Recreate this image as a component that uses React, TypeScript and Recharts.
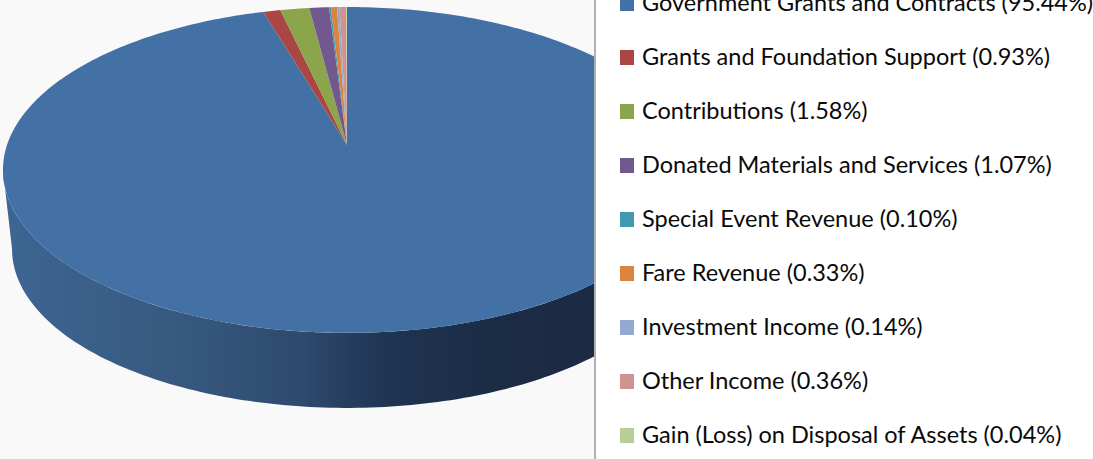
import { PieChart, Pie, Legend } from "recharts";

const categories = [
  "Government Grants and Contracts",
  "Grants and Foundation Support",
  "Contributions",
  "Donated Materials and Services",
  "Special Event Revenue",
  "Fare Revenue",
  "Investment Income",
  "Other Income",
  "Gain (Loss) on Disposal of Assets",
];
const shares = [95.44, 0.93, 1.58, 1.07, 0.1, 0.33, 0.14, 0.36, 0.04];
const colors = ["#4371a6", "#aa4643", "#8aa54c", "#71588f", "#4198af", "#db843d", "#93a9cf", "#d19392", "#b9cd96"];

const chartData = categories.map((name, i) => ({ name, value: shares[i], fill: colors[i] }));

// fake 3D: tilt the circle with a small perspective
const SQUASH = 0.468;
const PERSPECTIVE = 0.153;
const TOP_CY = 145;
const TOP_R = 340;
// angles where the rim turns away from the viewer
const RIM_RIGHT = (-Math.asin(PERSPECTIVE) * 180) / Math.PI;
const RIM_LEFT = -180 - RIM_RIGHT;

const project = (cx: number, cy: number, r: number, deg: number) => {
  const a = (deg * Math.PI) / 180;
  const w = 1 + PERSPECTIVE * Math.sin(a);
  return [cx + (r * Math.cos(a)) / w, cy - (r * SQUASH * Math.sin(a)) / w];
};

const arcPoints = (cx: number, cy: number, r: number, from: number, to: number) => {
  const steps = Math.max(2, Math.ceil(Math.abs(from - to)));
  const pts: number[][] = [];
  for (let i = 0; i <= steps; i++) {
    pts.push(project(cx, cy, r, from + ((to - from) * i) / steps));
  }
  return pts;
};

const toPath = (pts: number[][]) =>
  pts.map((p, i) => `${i === 0 ? "M" : "L"}${p[0].toFixed(2)},${p[1].toFixed(2)}`).join(" ") + " Z";

const TopSlice = (props: any) => {
  const { cx, cy, outerRadius, startAngle, endAngle, fill } = props;
  const pts = [[cx, cy], ...arcPoints(cx, cy, outerRadius, startAngle, endAngle)];
  return <path d={toPath(pts)} fill={fill} />;
};

// the wall between the top face and a slightly smaller, lower copy of it
const WallSlice = (props: any) => {
  const { cx, cy, outerRadius, startAngle, endAngle } = props;
  const from = Math.min(startAngle, RIM_RIGHT);
  const to = Math.max(endAngle, RIM_LEFT);
  if (from <= to) return <g />;
  const top = arcPoints(cx, TOP_CY, TOP_R, from, to);
  const bottom = arcPoints(cx, cy, outerRadius, to, from);
  return <path d={toPath([...top, ...bottom])} fill="url(#wallShade)" />;
};

const LegendList = (props: any) => {
  const items = (props.payload || []).filter((p: any) => p.type !== "none");
  return (
    <div style={{ position: "relative", width: 497, height: 459, overflow: "hidden" }}>
      {items.map((entry: any, i: number) => (
        <div
          key={entry.value}
          style={{ position: "absolute", left: 24, top: -12 + i * 54, height: 30, display: "flex", alignItems: "center" }}
        >
          <span style={{ width: 14, height: 15, background: colors[i], marginRight: 8, flex: "none" }} />
          <span style={{ fontFamily: "Lato", fontSize: 23.5, color: "#0a0a0a", whiteSpace: "nowrap", position: "relative", top: -1 }}>
            {`${entry.value} (${shares[i].toFixed(2)}%)`}
          </span>
        </div>
      ))}
    </div>
  );
};

export default function App() {
  return (
    <div style={{ position: "absolute", left: 0, top: 0, width: 1093, height: 459, background: "#f9f9f9", overflow: "hidden" }}>
      <PieChart width={1093} height={459} margin={{ top: 0, right: 0, bottom: 0, left: 0 }}>
        <defs>
          <linearGradient id="wallShade" gradientUnits="userSpaceOnUse" x1="0" y1="0" x2="600" y2="0">
            <stop offset="0" stopColor="#3d6693" />
            <stop offset="0.3" stopColor="#37597f" />
            <stop offset="0.5" stopColor="#2e4a6d" />
            <stop offset="0.65" stopColor="#1f3452" />
            <stop offset="0.82" stopColor="#1b2c45" />
            <stop offset="1" stopColor="#1b2b44" />
          </linearGradient>
        </defs>
        <Pie
          data={chartData}
          dataKey="value"
          nameKey="name"
          cx={347}
          cy={225}
          outerRadius={331}
          startAngle={90}
          endAngle={-270}
          strokeWidth={0}
          legendType="none"
          shape={WallSlice}
          isAnimationActive={false}
        />
        <Pie
          data={chartData}
          dataKey="value"
          nameKey="name"
          cx={347}
          cy={TOP_CY}
          outerRadius={TOP_R}
          startAngle={90}
          endAngle={-270}
          strokeWidth={0}
          legendType="square"
          shape={TopSlice}
          isAnimationActive={false}
        />
        <Legend
          content={LegendList}
          itemSorter={null}
          wrapperStyle={{
            left: 594,
            top: 0,
            width: 499,
            height: 459,
            background: "#fff",
            borderLeft: "2px solid #b0b0b0",
            boxSizing: "border-box",
          }}
        />
      </PieChart>
    </div>
  );
}
